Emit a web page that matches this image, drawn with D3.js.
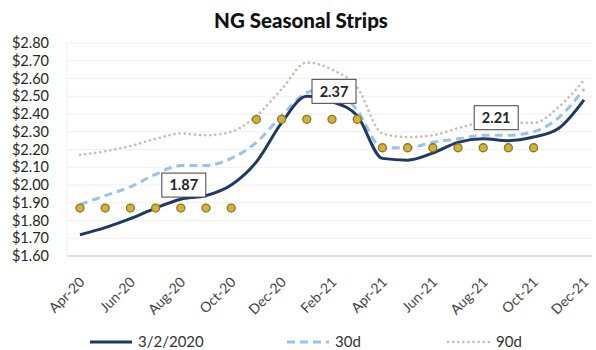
<!DOCTYPE html>
<html>
<head>
<meta charset="utf-8">
<script src="https://cdn.jsdelivr.net/npm/d3@7/dist/d3.min.js"></script>
<style>
  html, body { margin: 0; padding: 0; background: #fff; }
  svg { display: block; font-family: Lato, "Open Sans", sans-serif; }
</style>
</head>
<body>
<svg id="chart" width="596" height="350"></svg>
<script>
// Monthly contract months
const months = ["Apr-20","May-20","Jun-20","Jul-20","Aug-20","Sep-20","Oct-20","Nov-20","Dec-20",
  "Jan-21","Feb-21","Mar-21","Apr-21","May-21","Jun-21","Jul-21","Aug-21","Sep-21","Oct-21","Nov-21","Dec-21"];

// Forward curve as of 3/2/2020
const curveCurrent = [1.72,1.76,1.81,1.87,1.92,1.94,2.00,2.13,2.35,2.50,2.47,2.39,2.15,2.14,2.18,2.24,2.26,2.25,2.27,2.32,2.48];
// Curve 30 days earlier
const curve30d = [1.89,1.94,1.99,2.06,2.11,2.11,2.15,2.24,2.39,2.52,2.55,2.42,2.21,2.21,2.24,2.26,2.28,2.28,2.30,2.38,2.54];
// Curve 90 days earlier
const curve90d = [2.17,2.19,2.22,2.26,2.29,2.28,2.30,2.39,2.54,2.69,2.65,2.55,2.29,2.27,2.28,2.32,2.35,2.35,2.35,2.44,2.59];
// Seasonal strip averages (summer 20, winter 20/21, summer 21)
const strips = [1.87,1.87,1.87,1.87,1.87,1.87,1.87,2.37,2.37,2.37,2.37,2.37,2.21,2.21,2.21,2.21,2.21,2.21,2.21,null,null];
// Months carrying a strip value label
const labelMonths = ["Aug-20","Feb-21","Aug-21"];

const yTicks = [1.6,1.7,1.8,1.9,2.0,2.1,2.2,2.3,2.4,2.5,2.6,2.7,2.8];
const xTickLabels = months.filter((d, i) => i % 2 === 0);

const svg = d3.select("#chart");

const x = d3.scalePoint().domain(months).range([80, 584]);
const y = d3.scaleLinear().domain([1.6, 2.8]).range([256, 43]);
const plotLeft = 67, plotRight = 592;

// Title
svg.append("text")
  .attr("x", 301).attr("y", 28)
  .attr("text-anchor", "middle")
  .attr("font-size", 20.5).attr("font-weight", 900)
  .attr("fill", "#111")
  .text("NG Seasonal Strips");

// Gridlines
svg.append("g").selectAll("line")
  .data(yTicks.slice(1))
  .join("line")
  .attr("x1", plotLeft).attr("x2", plotRight)
  .attr("y1", d => y(d)).attr("y2", d => y(d))
  .attr("stroke", "#efefef").attr("stroke-width", 1);

svg.append("line")
  .attr("x1", plotLeft).attr("x2", plotLeft)
  .attr("y1", y(2.8)).attr("y2", y(1.6))
  .attr("stroke", "#eeeeee");

// Baseline axis
svg.append("line")
  .attr("x1", plotLeft).attr("x2", plotRight)
  .attr("y1", y(1.6)).attr("y2", y(1.6))
  .attr("stroke", "#d9d9d9").attr("stroke-width", 1.5);

// Y axis labels
const yAxis = d3.axisLeft(y).tickValues(yTicks)
  .tickFormat(d => "$" + d.toFixed(2)).tickSize(0).tickPadding(0);
svg.append("g")
  .attr("transform", "translate(49,0)")
  .call(yAxis)
  .call(g => g.select(".domain").remove())
  .call(g => g.selectAll("text")
    .attr("font-size", 14.5).attr("fill", "#262626")
    .attr("font-family", "Lato, 'Open Sans', sans-serif"));

// X axis labels (every other month, rotated)
const xAxis = d3.axisBottom(x).tickValues(xTickLabels).tickSize(0).tickPadding(0);
svg.append("g")
  .attr("transform", `translate(0,${y(1.6)})`)
  .call(xAxis)
  .call(g => g.select(".domain").remove())
  .call(g => g.selectAll("text")
    .attr("font-size", 14).attr("fill", "#444")
    .attr("font-family", "Lato, 'Open Sans', sans-serif")
    .attr("text-anchor", "end")
    .attr("dy", 0)
    .attr("transform", "translate(5,27) rotate(-45)"));

const line = d3.line()
  .defined(d => d != null)
  .x((d, i) => x(months[i]))
  .y(d => y(d))
  .curve(d3.curveMonotoneX);

// 90d dotted curve
svg.append("path")
  .attr("d", line(curve90d))
  .attr("fill", "none")
  .attr("stroke", "#c9b9b9").attr("stroke-width", 2.6)
  .attr("stroke-dasharray", "0.1 5").attr("stroke-linecap", "round");

// 30d dashed curve
svg.append("path")
  .attr("d", line(curve30d))
  .attr("fill", "none")
  .attr("stroke", "#9cc3e5").attr("stroke-width", 3)
  .attr("stroke-dasharray", "8 5");

// Current curve
svg.append("path")
  .attr("d", line(curveCurrent))
  .attr("fill", "none")
  .attr("stroke", "#1f3864").attr("stroke-width", 3)
  .attr("stroke-linejoin", "round");

// Strip markers
svg.append("g").selectAll("circle")
  .data(strips.map((v, i) => ({ m: months[i], v })).filter(d => d.v != null))
  .join("circle")
  .attr("cx", d => x(d.m)).attr("cy", d => y(d.v))
  .attr("r", 4)
  .attr("fill", "#d2b33a").attr("stroke", "#8a7726").attr("stroke-width", 1.3);

// Strip value labels
const labelOffsets = { "Aug-20": [3, -23], "Feb-21": [2, -28], "Aug-21": [13, -30] };
const lbl = svg.append("g").selectAll("g")
  .data(labelMonths.map(m => ({ m, v: strips[months.indexOf(m)] })))
  .join("g")
  .attr("transform", d => {
    const o = labelOffsets[d.m];
    return `translate(${x(d.m) + o[0]},${y(d.v) + o[1]})`;
  });
lbl.append("rect")
  .attr("x", -22).attr("y", -12).attr("width", 44).attr("height", 24)
  .attr("fill", "#fff").attr("stroke", "#404040").attr("stroke-width", 1);
lbl.append("text")
  .attr("text-anchor", "middle").attr("dy", "0.36em")
  .attr("font-size", 14.5).attr("font-weight", 700).attr("fill", "#262626")
  .text(d => d.v.toFixed(2));

// Legend
const legend = [
  { name: "3/2/2020", x: 90, stroke: "#1f3864", dash: null, cap: "butt", w: 3 },
  { name: "30d", x: 287, stroke: "#9cc3e5", dash: "8 5", cap: "butt", w: 3 },
  { name: "90d", x: 448, stroke: "#c9b9b9", dash: "0.1 5", cap: "round", w: 2.6 }
];
const lg = svg.append("g").selectAll("g").data(legend).join("g")
  .attr("transform", d => `translate(${d.x},342)`);
lg.append("line")
  .attr("x1", 0).attr("x2", 42).attr("y1", 0).attr("y2", 0)
  .attr("stroke", d => d.stroke).attr("stroke-width", d => d.w)
  .attr("stroke-dasharray", d => d.dash).attr("stroke-linecap", d => d.cap);
lg.append("text")
  .attr("x", 48).attr("dy", "0.36em")
  .attr("font-size", 15).attr("fill", "#333")
  .text(d => d.name);
</script>
</body>
</html>
